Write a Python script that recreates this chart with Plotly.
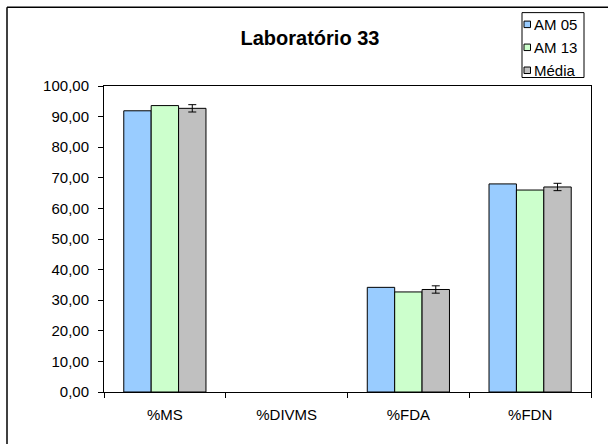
import plotly.graph_objects as go

categories = ["%MS", "%DIVMS", "%FDA", "%FDN"]
am05 = [91.9, None, 34.2, 68.0]
am13 = [93.6, None, 32.7, 66.0]
media = [92.7, None, 33.5, 67.0]
media_err = [1.2, None, 1.2, 1.2]
series_names = ["AM 05", "AM 13", "Média"]
colors = ["#99CCFF", "#CCFFCC", "#C0C0C0"]
y_ticks = [0, 10, 20, 30, 40, 50, 60, 70, 80, 90, 100]

fig = go.Figure()
for name, vals, col in zip(series_names, [am05, am13, media], colors):
    kw = {}
    if name == "Média":
        kw["error_y"] = dict(type="data", array=media_err, visible=True,
                             color="black", thickness=1, width=4)
    fig.add_trace(go.Bar(x=categories, y=vals, name=name,
                         marker=dict(color=col, line=dict(color="black", width=1)),
                         **kw))

W, H = 608, 444
L, R, T, B = 104, 591, 86, 392.5
PW, PH = R - L, B - T

def px(x):
    return (x - L) / PW

def py(y):
    return (B - y) / PH

fig.update_layout(
    width=W, height=H,
    margin=dict(l=L, r=W - R, t=T, b=H - B, autoexpand=False),
    paper_bgcolor="white", plot_bgcolor="white",
    barmode="group", bargap=0.325, bargroupgap=0,
    separators=",.",
    showlegend=False,
    font=dict(family="Liberation Sans, Arial, sans-serif", size=15, color="black"),
    title=dict(text="<b>Laboratório 33</b>", x=310 / W, xref="container",
               xanchor="center", y=1 - 38 / H, yanchor="middle",
               font=dict(size=20, color="black")),
    xaxis=dict(type="category", showline=True, linecolor="black", linewidth=1, mirror=True,
               ticks="outside", tickson="boundaries", ticklen=5, tickcolor="black",
               showgrid=False, tickfont=dict(size=15), ticklabelstandoff=9),
    yaxis=dict(range=[0, 100], tickvals=y_ticks, tickformat=".2f", showline=True,
               linecolor="black", linewidth=1, mirror=True, ticks="outside", ticklen=5,
               tickcolor="black", showgrid=False, zeroline=False, tickfont=dict(size=15),
               ticklabelstandoff=6),
)

# outer chart frame (top and left edges visible)
fig.add_shape(type="line", xref="paper", yref="paper", x0=px(7), x1=px(W + 5),
              y0=py(7), y1=py(7), line=dict(color="black", width=1.5))
fig.add_shape(type="line", xref="paper", yref="paper", x0=px(7), x1=px(7),
              y0=py(7), y1=py(H + 5), line=dict(color="black", width=1.5))

# legend box
fig.add_shape(type="rect", xref="paper", yref="paper", x0=px(522), x1=px(584),
              y0=py(12.5), y1=py(77.5), line=dict(color="black", width=1),
              fillcolor="white", layer="above")
row_y = [24, 47, 70]
for name, col, ry in zip(series_names, colors, row_y):
    fig.add_shape(type="rect", xref="paper", yref="paper", x0=px(524), x1=px(530.5),
                  y0=py(ry - 3), y1=py(ry + 3.5), line=dict(color="black", width=1),
                  fillcolor=col)
    fig.add_annotation(text=name, xref="paper", yref="paper", x=px(532), y=py(ry),
                       xanchor="left", yanchor="middle", showarrow=False,
                       font=dict(size=15, color="black"))

fig.write_html("out.html", post_script="document.body.style.margin='0';",
               config={"displayModeBar": False})
